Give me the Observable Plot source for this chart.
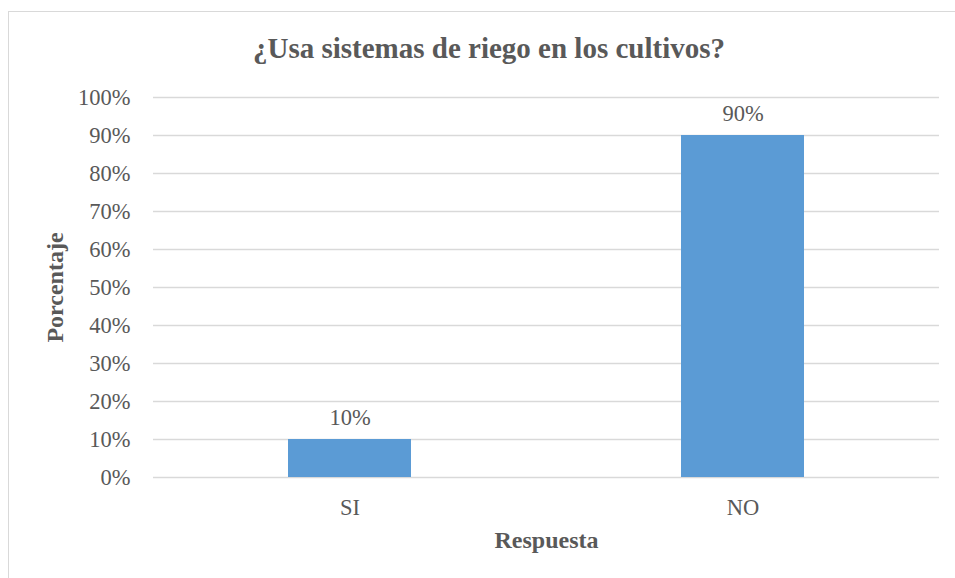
<!DOCTYPE html>
<html>
<head>
<meta charset="utf-8">
<script src="https://cdn.jsdelivr.net/npm/d3@7"></script>
<script src="https://cdn.jsdelivr.net/npm/@observablehq/plot@0.6"></script>
<style>
  html, body { margin: 0; padding: 0; background: #fff; }
  body { width: 955px; height: 578px; position: relative; overflow: hidden; font-family: "Liberation Serif", "Times New Roman", serif; }
  #frame { position: absolute; left: 8px; top: 11px; width: 975px; height: 590px; border: 1px solid #d9d9d9; box-sizing: border-box; }
  #title { position: absolute; left: 489px; top: 32px; transform: translateX(-50%); white-space: nowrap;
           font-size: 29px; font-weight: bold; color: #595959; line-height: 1.15; }
  #chart { position: absolute; left: 0; top: 0; }
</style>
</head>
<body>
<div id="frame"></div>
<div id="chart"></div>
<div id="title">¿Usa sistemas de riego en los cultivos?</div>
<script>
const categories = ["SI", "NO"];
const values = [0.10, 0.90];
const yTicks = [0, 0.1, 0.2, 0.3, 0.4, 0.5, 0.6, 0.7, 0.8, 0.9, 1.0];
const title = "¿Usa sistemas de riego en los cultivos?";
const xLabel = "Respuesta";
const yLabel = "Porcentaje";

const data = categories.map((c, i) => ({cat: c, val: values[i]}));
const pct = d => Math.round(d * 100) + "%";

const chart = Plot.plot({
  width: 955,
  height: 578,
  marginLeft: 153,
  marginRight: 16,
  marginTop: 97,
  marginBottom: 101,
  style: { fontFamily: "'Liberation Serif', 'Times New Roman', serif", fontSize: "22.5px", color: "#595959", background: "transparent" },
  x: { domain: categories, paddingInner: 0.687, paddingOuter: 0.3435, label: null },
  y: { domain: [0, 1], label: null },
  marks: [
    Plot.gridY(yTicks, { stroke: "#d9d9d9", strokeOpacity: 1, strokeWidth: 1.5 }),
    Plot.barY(data, { x: "cat", y: "val", fill: "#5b9bd5" }),
    Plot.text(data, { x: "cat", y: "val", text: d => pct(d.val), dy: -22, fill: "#595959", fontSize: 22.5 }),
    Plot.axisY(yTicks, { tickSize: 0, tickPadding: 23, tickFormat: pct, fontSize: 22.5, fill: "#595959", label: null }),
    Plot.axisX({ tickSize: 0, tickPadding: 22, fontSize: 22.5, fill: "#595959", label: null }),
    Plot.text([xLabel], { frameAnchor: "bottom", textAnchor: "middle", dy: 70, fontWeight: "bold", fontSize: 24, fill: "#595959" }),
    Plot.text([yLabel], { frameAnchor: "left", textAnchor: "middle", dx: -98, rotate: -90, fontWeight: "bold", fontSize: 24, fill: "#595959" })
  ]
});
document.getElementById("chart").appendChild(chart);
</script>
</body>
</html>
